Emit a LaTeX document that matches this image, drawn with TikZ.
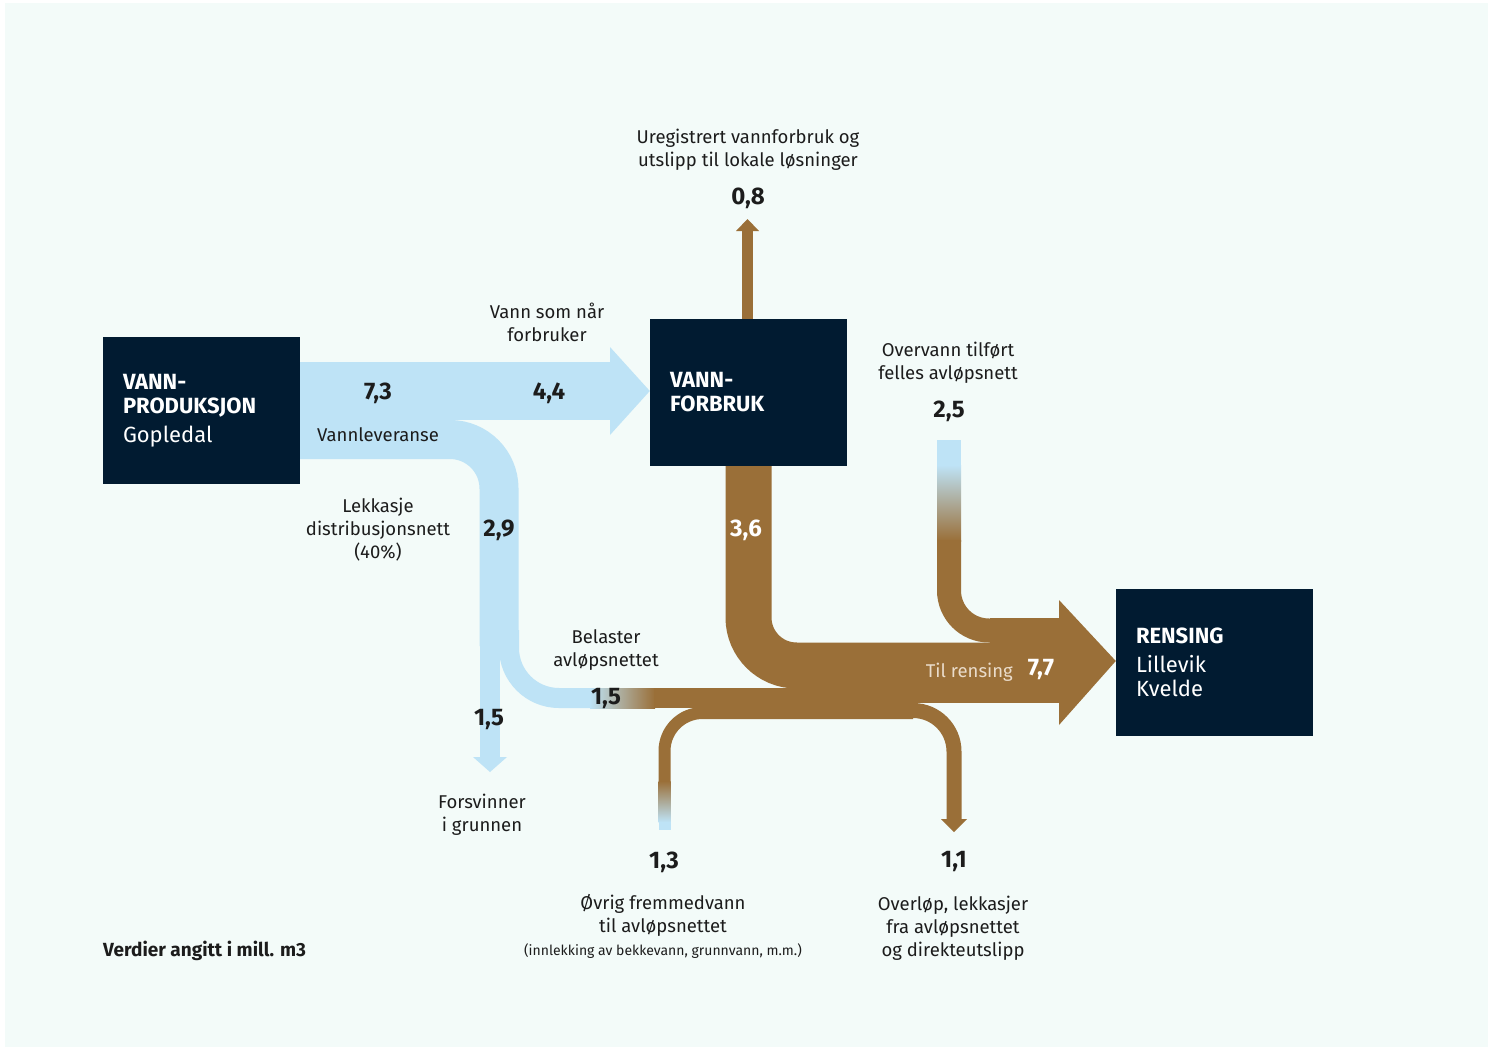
\documentclass[tikz,border=0pt]{standalone}
\usepackage{fontspec}
\setmainfont{Fira Sans}
\usetikzlibrary{positioning}

\definecolor{navy}{HTML}{011B31}
\definecolor{bgmint}{HTML}{F3FBF9}
\definecolor{waterblue}{HTML}{BEE3F6}
\definecolor{sewerbrown}{HTML}{9A6F38}
\definecolor{ink}{HTML}{1C1C1C}
\definecolor{beige}{HTML}{EADCCB}

\begin{document}
\begin{tikzpicture}[x=1pt, y=-1pt,
    box/.style={fill=navy, text=white, minimum width=197pt, minimum height=147pt,
        inner xsep=20pt, inner ysep=0pt, text width=157pt, align=left,
        font=\fontsize{22}{24}\selectfont},
    flow_label/.style={text=ink, align=center, inner sep=0pt, font=\fontsize{18.5}{23}\selectfont},
    value/.style={text=ink, inner sep=0pt, font=\fontsize{24}{28}\selectfont\bfseries},
    blue_band/.style={draw=waterblue},
    brown_band/.style={draw=sewerbrown}
]
    \useasboundingbox (0,0) rectangle (1494,1047);
    \fill[white] (0,0) rectangle (1494,1047);
    \fill[bgmint] (5,3) rectangle (1488,1047);
    % Bokser
    \node[box] (prod) at (201.5,410.5) {\textbf{VANN-}\\\textbf{PRODUKSJON}\\[5pt]Gopledal};
    \node[box] (forb) at (748.5,392.5) {\textbf{VANN-}\\\textbf{FORBRUK}};
    \node[box] (rens) at (1214.5,662.5) {\textbf{RENSING}\\[5pt]Lillevik\\Kvelde};
    % Rent vann
    \draw[blue_band, line width=58pt] (prod.east |- 0,391) -- (610,391);
    \fill[waterblue] (610,347) -- (forb.west |- 0,391) -- (610,435) -- cycle;
    \draw[blue_band, line width=39pt, rounded corners=49pt] (prod.east |- 0,439.5) -| (499,646);
    \draw[blue_band, line width=20pt] (490,640) -- (490,758);
    \fill[waterblue] (473,757) -- (490,772) -- (507,757) -- cycle;
    \draw[blue_band, line width=20pt, rounded corners=50pt] (509,630) |- (591,698);
    \shade[left color=waterblue, right color=sewerbrown] (590,688) rectangle (655,708);
    % Avløpsvann
    \draw[brown_band, line width=20pt] (654,698) -- (913,698);
    \draw[brown_band, line width=12pt, rounded corners=38pt] (664.5,782) |- (913,713);
    \shade[top color=sewerbrown, bottom color=waterblue] (658.5,781) rectangle (670.5,822);
    \fill[waterblue] (658.5,821.5) rectangle (670.5,830);
    \draw[brown_band, line width=15pt, rounded corners=41pt] (800,710.5) -| (954,820);
    \fill[sewerbrown] (941,819) -- (954,832) -- (967,819) -- cycle;
    \draw[brown_band, line width=46pt, rounded corners=48pt] (forb.south) |- (1000,665.5);
    \fill[waterblue] (937,440) rectangle (961,466);
    \shade[top color=waterblue, bottom color=sewerbrown] (937,465) rectangle (961,541);
    \draw[brown_band, line width=24pt, rounded corners=40pt] (949,540) |- (1000,630.5);
    \fill[sewerbrown] (900,688) rectangle (1000,703);
    \fill[sewerbrown] (990,618) rectangle (1060,703);
    \fill[sewerbrown] (1059,600) -- (rens.west |- 0,661) -- (1059,725) -- cycle;
    \draw[brown_band, line width=11pt] (forb.north -| 747.5,0) -- (747.5,230);
    \fill[sewerbrown] (736,231) -- (747.5,219) -- (759,231) -- cycle;
    % Tekster
    \node[flow_label] (ureg) at (748,150) {Uregistrert vannforbruk og\\utslipp til lokale løsninger};
    \node[value] (v08) at (748,198) {0,8};
    \node[flow_label] (vsn) at (547,322) {Vann som når\\forbruker};
    \node[value] (v73) at (378,393) {7,3};
    \node[value] (v44) at (549,393) {4,4};
    \node[flow_label] (vlev) at (378,435) {Vannleveranse};
    \node[flow_label] (lekk) at (378,530) {Lekkasje\\distribusjonsnett\\(40\%)};
    \node[value] (v29) at (499,530) {2,9};
    \node[value, text=white] (v36) at (746,530) {3,6};
    \node[flow_label] (overv) at (948,363) {Overvann tilført\\felles avløpsnett};
    \node[value] (v25) at (949,411) {2,5};
    \node[flow_label] (bel) at (606,650) {Belaster\\avløpsnettet};
    \node[value] (v15b) at (606,699) {1,5};
    \node[value] (v15a) at (489,720) {1,5};
    \node[flow_label] (forsv) at (482,815) {Forsvinner\\i grunnen};
    \node[value] (v13) at (664,862) {1,3};
    \node[value] (v11) at (954,862) {1,1};
    \node[flow_label, anchor=north] (ovrig) at (663,894) {Øvrig fremmedvann\\til avløpsnettet\\{\fontsize{14}{23}\selectfont(innlekking av bekkevann, grunnvann, m.m.)}};
    \node[flow_label] (overl) at (953,928) {Overløp, lekkasjer\\fra avløpsnettet\\og direkteutslipp};
    \node[flow_label, text=beige, anchor=east] (tilr) at (1013,672) {Til rensing};
    \node[value, text=white] (v77) at (1041,670) {7,7};
    \node[value, anchor=west, font=\fontsize{19}{23}\selectfont\bfseries] (verdier) at (103,951) {Verdier angitt i mill. m3};
\end{tikzpicture}
\end{document}
